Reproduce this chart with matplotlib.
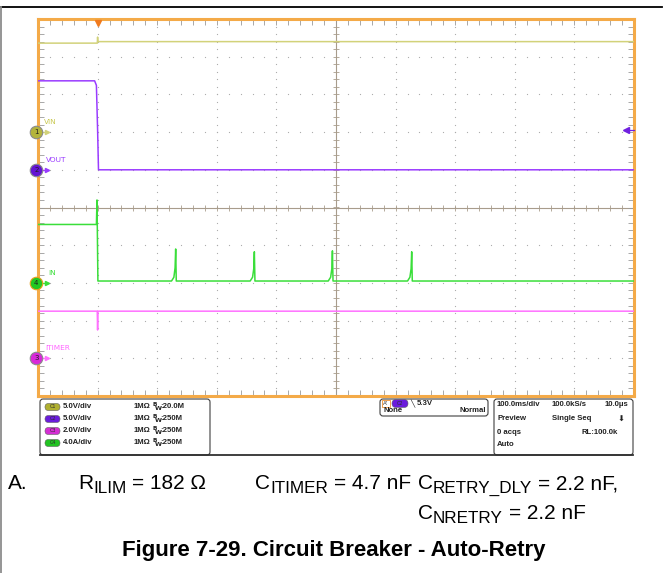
import matplotlib
matplotlib.use('Agg')
import numpy as np
import matplotlib.pyplot as plt
from matplotlib.patches import FancyBboxPatch

# channels: name, ground position (div from screen centre), units/div
ch_names = ['VIN', 'VOUT', 'ITIMER', 'IN']
ch_nums = ['1', '2', '3', '4']
ch_ground = [2.0, 1.0, -4.0, -2.0]
ch_scale = [5.0, 5.0, 2.0, 4.0]
ch_scale_txt = ['5.0V/div', '5.0V/div', '2.0V/div', '4.0A/div']
ch_bw = ['20.0M', '250M', '250M', '250M']
ch_trace_col = ['#d2d27a', '#9a3cff', '#ff70ff', '#3ade3a']
ch_label_col = ['#c8c850', '#9a3cff', '#ff66ff', '#3ade3a']
ch_mark_col = ['#b4b43c', '#6414d2', '#d828d8', '#22c822']
ch_mark_edge = ['#8a8a8a', '#8a8a8a', '#8a8a8a', '#e8a020']

# traces (time in ms, trigger at 0)
vin_t = [-100, -0.5, 0, 0.5, 900]
vin_v = [11.8, 11.8, 12.6, 12.0, 12.0]
vout_t = [-100, -5, -2, 0, 1.5, 900]
vout_v = [11.8, 11.8, 11.2, 5.3, 0.0, 0.0]
itimer_t = [-100, -0.6, 0.0, 0.6, 900]
itimer_v = [2.5, 2.5, 1.5, 2.5, 2.5]
in_t = [-100, -2, -1, 0.5,
        124, 128, 130, 131, 132,
        256, 260, 262, 263, 264,
        387, 391, 393, 394, 395,
        520, 524, 526, 527, 528, 900]
in_v = [6.2, 6.2, 8.8, 0.2,
        0.2, 0.6, 1.6, 3.6, 0.2,
        0.2, 0.6, 1.5, 3.3, 0.2,
        0.2, 0.6, 1.5, 3.4, 0.2,
        0.2, 0.6, 1.5, 3.3, 0.2, 0.2]
trig_level = 5.3   # on C2

# caption pieces: (main, subscript, rest)
cap_items = [('R', 'ILIM', '= 182 Ω'),
             ('C', 'ITIMER', '= 4.7 nF'),
             ('C', 'RETRY_DLY', '= 2.2 nF,'),
             ('C', 'NRETRY', '= 2.2 nF')]
title = 'Figure 7-29. Circuit Breaker - Auto-Retry'

W, H = 664, 573
fig = plt.figure(figsize=(W / 100, H / 100), dpi=100)

# background layer in pixel coords
bg = fig.add_axes([0, 0, 1, 1], zorder=0)
bg.set_xlim(0, W)
bg.set_ylim(H, 0)
bg.axis('off')
bg.plot([0, 662], [7, 7], color='black', lw=1.3)
bg.plot([1, 1], [7, H], color='#8c8c8c', lw=1.3)

# scope screen
L, R, T, B = 38, 634, 19, 396
ax = fig.add_axes([L / W, 1 - B / H, (R - L) / W, (B - T) / H], zorder=2)
ax.set_xlim(-100, 900)
ax.set_ylim(-5, 5)
for s in ax.spines.values():
    s.set_color('#f4aa48')
    s.set_linewidth(2.2)
ax.set_xticks(np.arange(-100, 901, 100))
ax.set_yticks(np.arange(-5, 5.1, 1))
ax.set_xticks(np.arange(-100, 901, 20), minor=True)
ax.set_yticks(np.arange(-5, 5.1, 0.2), minor=True)
ax.tick_params(which='both', direction='in', length=4, width=0.6, color='#9a9a9a',
               top=True, right=True, labelbottom=False, labelleft=False)

# dotted grid
gx = np.arange(0, 900, 100)
gy = np.arange(-4, 5, 1)
dots_y = np.arange(-5, 5.01, 0.2)
dots_x = np.arange(-100, 900.1, 20)
for x in gx:
    if x != 400:
        ax.scatter(np.full_like(dots_y, x), dots_y, s=0.8, color='#aaaaaa', lw=0, zorder=1)
for y in gy:
    if y != 0:
        ax.scatter(dots_x, np.full_like(dots_x, y), s=0.8, color='#aaaaaa', lw=0, zorder=1)
# centre lines with ticks
ax.axhline(0, color='#a89c8c', lw=0.8, zorder=1)
ax.axvline(400, color='#a89c8c', lw=0.8, zorder=1)
ax.plot(dots_x, np.zeros_like(dots_x), ls='none', marker='|', ms=4, mew=0.6, color='#a89c8c', zorder=1)
ax.plot(np.full_like(dots_y, 400), dots_y, ls='none', marker='_', ms=4, mew=0.6, color='#a89c8c', zorder=1)

# traces
traces = [(vin_t, vin_v), (vout_t, vout_v), (itimer_t, itimer_v), (in_t, in_v)]
for i, (t, v) in enumerate(traces):
    y = ch_ground[i] + np.array(v) / ch_scale[i]
    ax.plot(t, y, color=ch_trace_col[i], lw=1.1, zorder=3)

# trigger markers
ax.plot(0, 4.9, marker='v', color='#f07a1e', ms=5, clip_on=False, zorder=5)
ty = ch_ground[1] + trig_level / ch_scale[1]
ax.plot([886, 900], [ty, ty], color='#7020e0', lw=0.9, clip_on=False, zorder=5)
ax.plot(886, ty, marker='<', color='#7020e0', ms=4, clip_on=False, zorder=5)

# channel ground markers and labels
lab_x = [-90, -87, -88, -82]
for i in range(4):
    g = ch_ground[i]
    ax.plot([-96, -84], [g, g], color=ch_trace_col[i], lw=0.9, clip_on=False, zorder=6)
    ax.plot(-85, g, marker='>', color=ch_trace_col[i], ms=3, clip_on=False, zorder=6)
    ax.plot(-103, g, marker='o', ms=9, mfc=ch_mark_col[i], mec=ch_mark_edge[i], mew=0.8,
            clip_on=False, zorder=7)
    ax.text(-103, g, ch_nums[i], fontsize=5, ha='center', va='center', color='#202020', zorder=8)
    ax.text(lab_x[i], g + 0.27, ch_names[i], fontsize=5.3, color=ch_label_col[i],
            ha='left', va='center', zorder=6)

# bottom status panel
def rbox(x, y, w, h, ec='#404040'):
    bg.add_patch(FancyBboxPatch((x, y), w, h, boxstyle='round,pad=0,rounding_size=3',
                                fc='white', ec=ec, lw=0.8))

rbox(40, 399, 170, 56)
rbox(380, 399, 108, 17)
rbox(494, 399, 139, 56)
bg.plot([40, 633], [455, 455], color='#303030', lw=1.3)

pill_cols = ['#b0b030', '#6a1cdc', '#d42ed4', '#22c422']
rows = [407, 419, 431, 443]
txt = dict(fontsize=5.6, fontweight='bold', color='#222222', va='center', family='Liberation Sans')
for i, y in enumerate(rows):
    bg.add_patch(FancyBboxPatch((45, y - 3.5), 15, 7, boxstyle='round,pad=0,rounding_size=3.5',
                                fc=pill_cols[i], ec='#606060', lw=0.4))
    bg.text(52.5, y, 'C' + ch_nums[i], fontsize=3.5, ha='center', va='center', color='#303030')
    bg.text(63, y, ch_scale_txt[i], **txt)
    bg.text(134, y, '1MΩ', **txt)
    bg.text(152.5, y - 2.2, 'B', fontsize=4.2, fontweight='bold', color='#222222', va='center')
    bg.text(154.5, y + 1.6, 'W', fontsize=4.6, fontweight='bold', color='#222222', va='center')
    bg.text(160.5, y, ':' + ch_bw[i], **txt)

# trigger box
bg.add_patch(plt.Rectangle((382, 400), 8, 7, fc='white', ec='#f09030', lw=0.6))
bg.text(386, 403.5, "A'", fontsize=4, ha='center', va='center', color='#303030')
bg.add_patch(FancyBboxPatch((392, 399.5), 16, 8, boxstyle='round,pad=0,rounding_size=4',
                            fc='#6a1cdc', ec='#606060', lw=0.4))
bg.text(400, 403.5, 'C2', fontsize=3.5, ha='center', va='center', color='#303030')
bg.text(410, 403.5, '\u2572', fontsize=5, va='center', color='#222222')
bg.text(417, 403.5, '5.3V', **txt)
bg.text(383, 411, 'None', **txt)
bg.text(486, 411, 'Normal', ha='right', **txt)

# acquisition box
acq_rows = [405, 419, 432, 445]
bg.text(497, acq_rows[0], '100.0ms/div', **txt)
bg.text(552, acq_rows[0], '100.0kS/s', **txt)
bg.text(628, acq_rows[0], '10.0μs', ha='right', **txt)
bg.text(497, acq_rows[1], 'Preview', **txt)
bg.text(552, acq_rows[1], 'Single Seq', **txt)
bg.text(621, acq_rows[1], '\u2b07', fontsize=6, ha='center', va='center', color='#222222')
bg.text(618, acq_rows[2], 'RL:100.0k', ha='right', **txt)
bg.text(497, acq_rows[2], '0 acqs', **txt)
bg.text(497, acq_rows[3], 'Auto', **txt)

# caption, built from pieces so the subscripts can be sized freely
renderer = fig.canvas.get_renderer()
main_fs, sub_fs = 15.0, 12.3

def run(x, y, s, fs, dy=0):
    t = bg.text(x, y + dy, s, fontsize=fs, family='Liberation Sans', color='black',
                va='baseline', ha='left')
    return x + t.get_window_extent(renderer).width

def cap_text(x, y, item):
    head, sub, rest = item
    x = run(x, y, head, main_fs)
    x = run(x, y, sub, sub_fs, dy=4)
    x += 0.28 * main_fs * 100 / 72
    run(x, y, rest, main_fs)

run(8, 489, 'A.', main_fs)
cap_text(78, 489, cap_items[0])
cap_text(255, 489, cap_items[1])
cap_text(418, 489, cap_items[2])
cap_text(418, 519, cap_items[3])
bg.text(334, 556, title, fontsize=16, fontweight='bold',
        family='Liberation Sans', ha='center', va='baseline', color='black')

fig.savefig('out.png', dpi=100)
